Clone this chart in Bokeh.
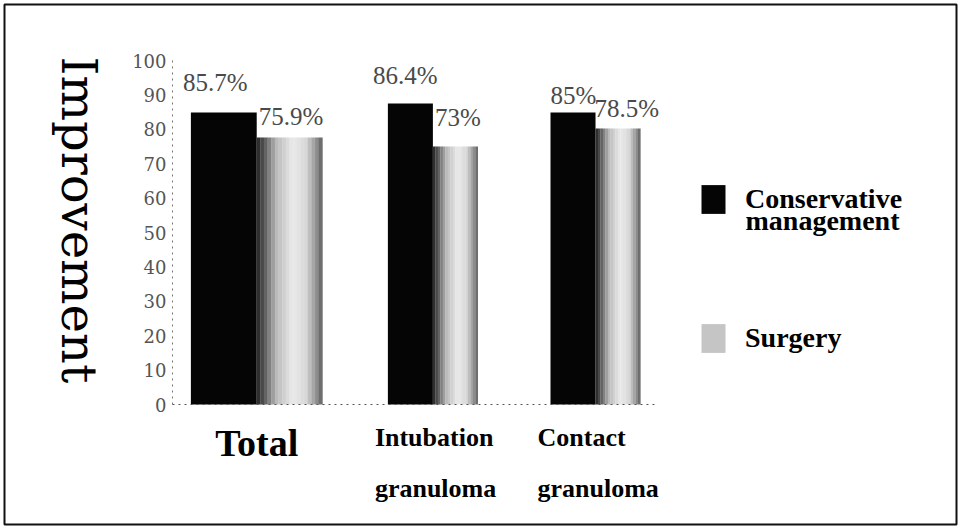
import math
import numpy as np
from bokeh.plotting import figure
from bokeh.models import (Range1d, ColumnDataSource, Label, LabelSet, Legend,
                          LegendItem, FixedTicker)
from bokeh.embed import file_html
from bokeh.resources import INLINE

# ---------------- data ----------------
categories = ["Total", "Intubation granuloma", "Contact granuloma"]
series_names = ["Conservative management", "Surgery"]
conservative = [84.9, 87.5, 84.9]          # bar heights
surgery = [77.6, 75.0, 80.2]
conservative_labels = ["85.7%", "86.4%", "85%"]
surgery_labels = ["75.9%", "73%", "78.5%"]
y_ticks = [0, 10, 20, 30, 40, 50, 60, 70, 80, 90, 100]

# ---------------- layout / style ----------------
W, H, B = 960, 528, 4                      # canvas and frame inset (px)
X0_PX, X10_PX = 172, 656                   # pixel columns of x=0 and x=10
Y0_PX, Y100_PX = 404, 60                   # pixel rows of y=0 and y=100
XMAX, YMAX = 10, 100
ppx = (X10_PX - X0_PX) / XMAX
ppy = (Y0_PX - Y100_PX) / YMAX
x_rng = (-(X0_PX - B) / ppx, XMAX + (W - B - X10_PX) / ppx)
y_rng = (-(H - B - Y0_PX) / ppy, YMAX + (Y100_PX - B) / ppy)

group_centers = [1.74, 5.38, 8.74]         # x positions of the groups (axis units)
bar_widths = [1.36, 0.93, 0.93]            # width of one bar in each group
cons_lbl_dx = [-8, -15, 0]                 # value label offsets (px)
cons_lbl_dy = [21, 20, 8]
surg_lbl_dx = [2, 2, -1]
surg_lbl_dy = [13, 21, 12]

SERIF = "DejaVu Serif"
TIMES = "Liberation Serif"
LEG_FONT_PX = 28

p = figure(width=W, height=H, x_range=Range1d(*x_rng), y_range=Range1d(*y_rng),
           output_backend="svg", toolbar_location=None,
           min_border_left=B, min_border_right=B,
           min_border_top=B, min_border_bottom=B)
p.outline_line_color = "#111"
p.outline_line_width = 2
p.grid.visible = False
p.background_fill_color = "white"
p.border_fill_color = "white"

# axes (drawn at the data origin, inside the frame)
p.xaxis.fixed_location = 0
p.xaxis.bounds = (0, XMAX)
p.xaxis.ticker = FixedTicker(ticks=[])
p.xaxis.major_label_text_font_size = "0px"
p.xaxis.major_tick_out = 0
p.xaxis.major_tick_in = 0
p.xaxis.minor_tick_out = 0
p.xaxis.axis_line_dash = "dotted"
p.xaxis.axis_line_color = "#555"

p.yaxis.fixed_location = 0
p.yaxis.bounds = (0, YMAX)
p.yaxis.ticker = FixedTicker(ticks=y_ticks)
p.yaxis.major_tick_out = 0
p.yaxis.major_tick_in = 0
p.yaxis.minor_tick_out = 0
p.yaxis.minor_tick_in = 0
p.yaxis.axis_line_dash = "dotted"
p.yaxis.axis_line_color = "#777"
p.yaxis.major_label_standoff = 6
p.yaxis.major_label_text_font = SERIF
p.yaxis.major_label_text_font_size = "18px"
p.yaxis.major_label_text_color = "#555"

# conservative bars (solid black)
cons_x = [c - w / 2 for c, w in zip(group_centers, bar_widths)]
cons_r = p.vbar(x=cons_x, width=bar_widths, top=conservative, bottom=0,
                fill_color="#050505", line_color=None)

# surgery bars: shaded (cylinder-like) fill built from vertical strips
N = 18
prof_t = [0.0, 0.12, 0.3, 0.55, 0.75, 0.9, 1.0]
prof_g = [35, 90, 185, 235, 215, 150, 95]
surg_renderers = []
for k in range(N):
    t = (k + 0.5) / N
    g = int(np.interp(t, prof_t, prof_g))
    col = "#%02x%02x%02x" % (g, g, g)
    xs = [c + w * t for c, w in zip(group_centers, bar_widths)]
    ws = [w / N * 1.08 for w in bar_widths]
    r = p.vbar(x=xs, width=ws, top=surgery, bottom=0, fill_color=col, line_color=None)
    surg_renderers.append(r)

# value labels
lbl_src = ColumnDataSource(dict(
    x=[c - w for c, w in zip(group_centers, bar_widths)] + list(group_centers),
    y=conservative + surgery,
    text=conservative_labels + surgery_labels,
    dx=cons_lbl_dx + surg_lbl_dx,
    dy=cons_lbl_dy + surg_lbl_dy,
))
p.add_layout(LabelSet(x="x", y="y", text="text", x_offset="dx", y_offset="dy",
                      source=lbl_src, text_font=SERIF, text_font_size="25px",
                      text_color="#4a4a4a", text_align="left",
                      text_baseline="alphabetic"))

# category labels
for i, cat in enumerate(categories):
    words = cat.split(" ")
    if len(words) == 1:
        p.add_layout(Label(x=group_centers[i], y=0, y_offset=-38, text=words[0],
                           text_font=TIMES, text_font_style="bold",
                           text_font_size="38px", text_align="center",
                           text_baseline="alphabetic", text_color="#000"))
    else:
        for j, wd in enumerate(words):
            p.add_layout(Label(x=group_centers[i] - bar_widths[i], y=0,
                               x_offset=-13, y_offset=-33 - 51 * j, text=wd,
                               text_font=TIMES, text_font_style="bold",
                               text_font_size="26px", text_align="left",
                               text_baseline="alphabetic", text_color="#000"))

# y axis title (reads top to bottom)
p.add_layout(Label(x=0, y=YMAX, x_offset=-94, y_offset=4, text="Improvement",
                   angle=-math.pi / 2, text_font=SERIF, text_font_size="48px",
                   text_align="left", text_baseline="middle", text_color="#000"))

# legend (first series name is wrapped onto two tight lines)
cons_name_lines = series_names[0].split(" ")
legend = Legend(items=[LegendItem(label=cons_name_lines[0], renderers=[cons_r]),
                       LegendItem(label=series_names[1], renderers=[surg_renderers[6]])],
                location=(694, 168), orientation="vertical",
                glyph_width=30, glyph_height=36, label_standoff=17, spacing=103,
                padding=0, margin=0, border_line_color=None,
                background_fill_alpha=0,
                label_text_font=TIMES, label_text_font_style="bold",
                label_text_font_size="%dpx" % LEG_FONT_PX,
                label_text_color="#000")
p.add_layout(legend)
p.add_layout(Label(x=XMAX, y=0, x_offset=89, y_offset=184,
                   text=" ".join(cons_name_lines[1:]),
                   text_font=TIMES, text_font_style="bold",
                   text_font_size="%dpx" % LEG_FONT_PX, text_align="left",
                   text_baseline="alphabetic", text_color="#000"))

open("out.html", "w").write(file_html(p, INLINE))
